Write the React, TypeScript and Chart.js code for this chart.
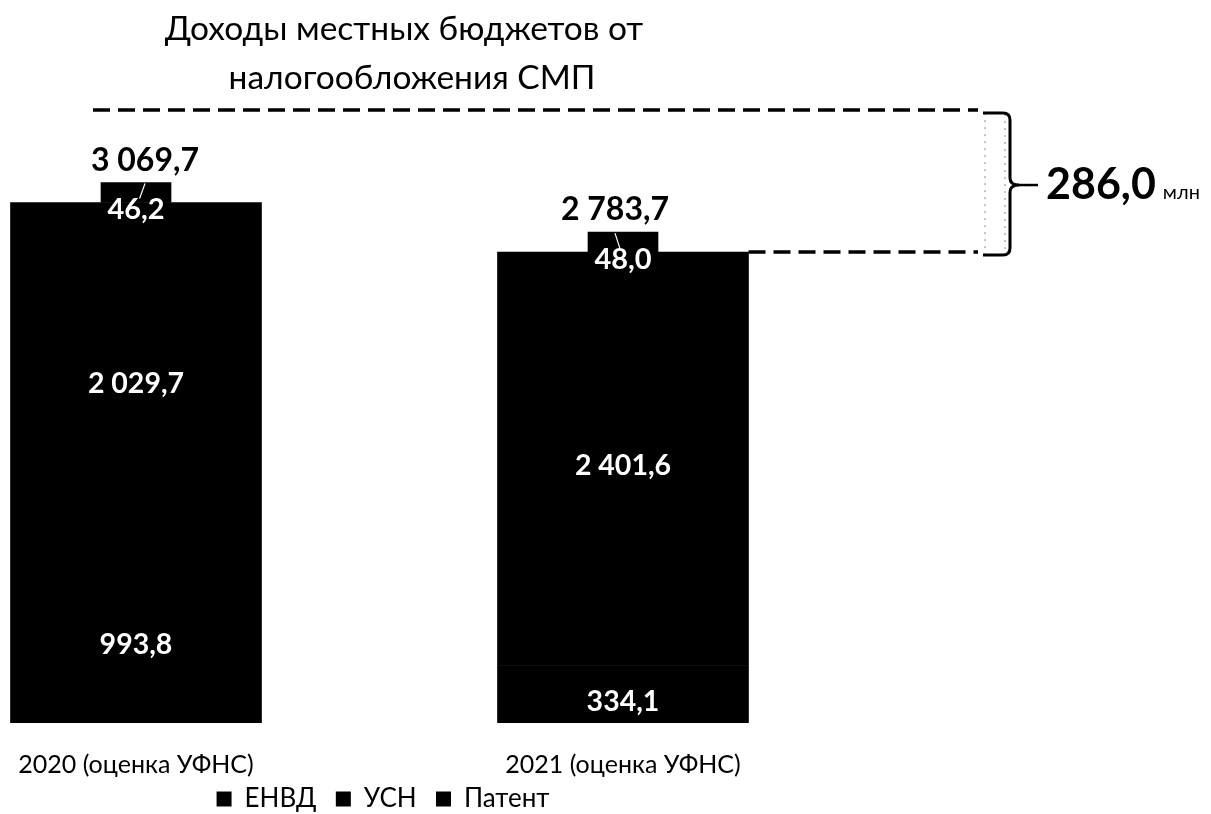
import React, { useEffect, useRef } from 'react';
import { Chart, registerables } from 'chart.js';

Chart.register(...registerables);

// ---- data ----
const categories = ['2020 (оценка УФНС)', '2021 (оценка УФНС)'];
const seriesNames = ['ЕНВД', 'УСН', 'Патент'];
const envd = [993.8, 334.1];
const usn = [2029.7, 2401.6];
const patent = [46.2, 48.0];
const titleLines = ['Доходы местных бюджетов от', 'налогообложения СМП'];
const unitLabel = 'млн';

const FONT = 'Lato, "Noto Sans", sans-serif';

function fmt(v: number): string {
  const [i, d] = v.toFixed(1).split('.');
  return i.replace(/\B(?=(\d{3})+(?!\d))/g, ' ') + ',' + d;
}

const totals = categories.map((_, i) => envd[i] + usn[i] + patent[i]);

const annotations = {
  id: 'annotations',
  afterDraw(chart: any) {
    const ctx = chart.ctx as CanvasRenderingContext2D;
    const area = chart.chartArea;
    const metas = [0, 1, 2].map((i) => chart.getDatasetMeta(i));
    ctx.save();

    // title
    ctx.fillStyle = '#000';
    ctx.textAlign = 'center';
    ctx.textBaseline = 'alphabetic';
    ctx.font = `33.5px ${FONT}`;
    ctx.fillText(titleLines[0], 404, 40);
    ctx.fillText(titleLines[1], 412, 89);

    // segment labels (ЕНВД, УСН)
    ctx.fillStyle = '#fff';
    const segFs = 28.5;
    ctx.font = `bold ${segFs}px ${FONT}`;
    [envd, usn].forEach((arr, d) => {
      metas[d].data.forEach((el: any, i: number) => {
        const c = (el.y + el.base) / 2 + 6;
        ctx.fillText(fmt(arr[i]), el.x, c + 0.36 * segFs);
      });
    });

    // patent labels + leader lines
    const patFs = 29;
    ctx.font = `bold ${patFs}px ${FONT}`;
    const dxs = [9, -8];
    metas[2].data.forEach((el: any, i: number) => {
      const c = el.base + 6;
      ctx.fillStyle = '#fff';
      ctx.fillText(fmt(patent[i]), el.x, c + 0.36 * patFs);
      ctx.strokeStyle = '#fff';
      ctx.lineWidth = 1.2;
      ctx.beginPath();
      ctx.moveTo(el.x + dxs[i], el.y + 1);
      ctx.lineTo(el.x + dxs[i] / 2.5, el.y + 16);
      ctx.stroke();
    });

    // totals
    ctx.fillStyle = '#000';
    ctx.font = `bold 32px ${FONT}`;
    metas[2].data.forEach((el: any, i: number) => {
      ctx.fillText(fmt(totals[i]), el.x + dxs[i], el.y - 12);
    });

    // difference annotation
    const topY = area.top + 110;
    const bar2 = metas[1].data[1] as any;
    const botY = bar2.y;
    const endX = 978;
    ctx.strokeStyle = '#000';
    ctx.lineWidth = 3.5;
    ctx.setLineDash([17, 8]);
    ctx.beginPath();
    ctx.moveTo(area.left + 93, topY);
    ctx.lineTo(endX, topY);
    ctx.moveTo(bar2.x + bar2.width / 2, botY);
    ctx.lineTo(endX, botY);
    ctx.stroke();

    // dotted box
    ctx.setLineDash([2, 5]);
    ctx.lineWidth = 1;
    ctx.strokeStyle = '#888';
    ctx.strokeRect(985, topY + 3, 20, botY - topY);

    // brace
    ctx.setLineDash([]);
    ctx.strokeStyle = '#000';
    ctx.lineWidth = 3;
    const bx = 1010;
    const t = topY + 3;
    const b = botY + 3;
    const m = (t + b) / 2 + 1;
    ctx.beginPath();
    ctx.moveTo(983, t);
    ctx.lineTo(bx - 7, t);
    ctx.quadraticCurveTo(bx, t, bx, t + 7);
    ctx.lineTo(bx, m - 7);
    ctx.quadraticCurveTo(bx, m, bx + 9, m);
    ctx.quadraticCurveTo(bx, m, bx, m + 7);
    ctx.lineTo(bx, b - 7);
    ctx.quadraticCurveTo(bx, b, bx - 7, b);
    ctx.lineTo(983, b);
    ctx.stroke();
    ctx.lineWidth = 2.5;
    ctx.beginPath();
    ctx.moveTo(bx + 8, m);
    ctx.lineTo(1038, m);
    ctx.stroke();

    // difference label
    ctx.fillStyle = '#000';
    ctx.textAlign = 'left';
    ctx.font = `bold 43px ${FONT}`;
    const diffText = fmt(totals[0] - totals[1]);
    ctx.fillText(diffText, 1046, m + 14);
    const w = ctx.measureText(diffText).width;
    ctx.font = `20px ${FONT}`;
    ctx.fillText(unitLabel, 1046 + w + 7, m + 14);

    ctx.restore();
  },
};

const X_MIN = -136 / 487;
const X_MAX = X_MIN + 766 / 487;

export default function App() {
  const ref = useRef<HTMLCanvasElement | null>(null);
  useEffect(() => {
    if (!ref.current) return;
    const mk = (arr: number[]) => arr.map((y, i) => ({ x: i, y }));
    const chart = new Chart(ref.current, {
      type: 'bar',
      data: {
        datasets: [
          { label: seriesNames[0], data: mk(envd), backgroundColor: '#000', borderWidth: 0, barThickness: 251 },
          { label: seriesNames[1], data: mk(usn), backgroundColor: '#000', borderWidth: 0, barThickness: 251 },
          { label: seriesNames[2], data: mk(patent), backgroundColor: '#000', borderWidth: 0, barThickness: 70, minBarLength: 20 },
        ] as any,
      },
      options: {
        responsive: false,
        animation: false,
        layout: { padding: { left: 0, right: 445, top: 0, bottom: -8 } },
        scales: {
          x: {
            type: 'linear',
            min: X_MIN,
            max: X_MAX,
            offset: false,
            bounds: 'ticks',
            stacked: true,
            grid: { display: false, drawTicks: false, offset: false },
            border: { display: false },
            afterBuildTicks: (ax: any) => {
              ax.ticks = categories.map((_, i) => ({ value: i }));
            },
            afterFit: (ax: any) => {
              ax.height = 57;
              ax.paddingLeft = 0;
              ax.paddingRight = 0;
            },
            ticks: {
              callback: (v: any) => categories[v as number] ?? '',
              font: { family: FONT, size: 25 },
              color: '#000',
              padding: 27,
              maxRotation: 0,
              autoSkip: false,
            },
          },
          y: {
            stacked: true,
            display: false,
            min: 0,
            max: 4200,
          },
        },
        plugins: {
          legend: {
            position: 'bottom',
            fullSize: false,
            labels: {
              font: { family: FONT, size: 26 },
              color: '#000',
              boxWidth: 15,
              boxHeight: 15,
              padding: 6,
              generateLabels: (chart: any) => {
                const items = Chart.defaults.plugins.legend.labels.generateLabels(chart);
                return items.map((it: any, i: number) => ({
                  ...it,
                  text: i < items.length - 1 ? it.text + '\u00A0\u00A0' : it.text,
                }));
              },
            },
          },
          title: { display: false },
          tooltip: { enabled: false },
        },
      } as any,
      plugins: [annotations],
    });
    return () => chart.destroy();
  }, []);
  return (
    <div style={{ position: 'fixed', left: 0, top: 0, width: 1211, height: 814, background: '#fff' }}>
      <canvas ref={ref} width={1211} height={814} style={{ display: 'block' }} />
    </div>
  );
}
